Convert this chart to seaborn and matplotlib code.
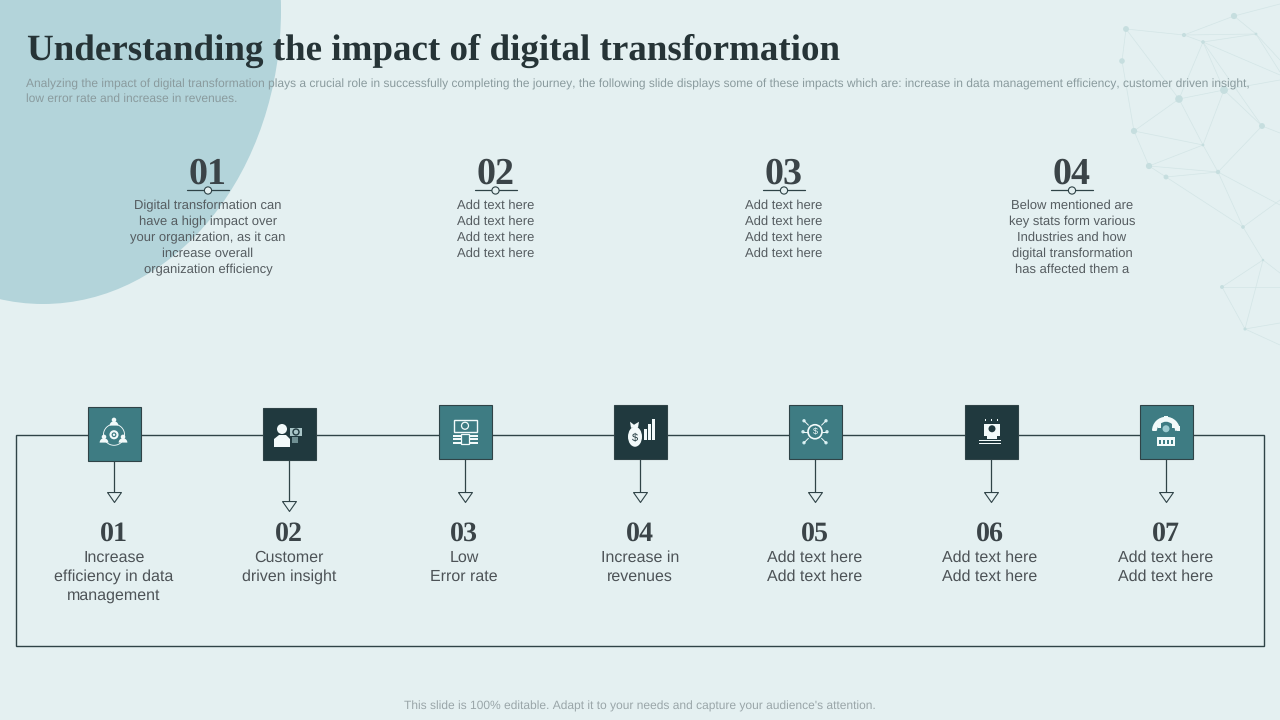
import matplotlib
matplotlib.use('Agg')

import matplotlib.pyplot as plt
import pandas as pd
import seaborn as sns
from matplotlib.patches import Circle, Ellipse, Polygon, Rectangle, Wedge

# Slide text
title = 'Understanding the impact of digital transformation'
intro_lines = [
    'Analyzing the impact of digital transformation plays a crucial role in successfully completing the journey, '
    'the following slide displays some of these impacts which are: increase in data management efficiency, customer driven insight,',
    'low error rate and increase in revenues.',
]
footer = "This slide is 100% editable. Adapt it to your needs and capture your audience's attention."

top_numbers = ['01', '02', '03', '04']
top_texts = [
    ['Digital transformation can', 'have a high impact over', 'your organization, as it can',
     'increase overall', 'organization efficiency'],
    ['Add text here', 'Add text here', 'Add text here', 'Add text here'],
    ['Add text here', 'Add text here', 'Add text here', 'Add text here'],
    ['Below mentioned are', 'key stats form various', 'Industries and how',
     'digital transformation', 'has affected them a'],
]

step_numbers = ['01', '02', '03', '04', '05', '06', '07']
step_texts = [
    ['Increase', 'efficiency in data', 'management'],
    ['Customer', 'driven insight'],
    ['Low', 'Error rate'],
    ['Increase in', 'revenues'],
    ['Add text here', 'Add text here'],
    ['Add text here', 'Add text here'],
    ['Add text here', 'Add text here'],
]

# Background network
node_x = [1126, 1184, 1203, 1234, 1256, 1122, 1179, 1224, 1134, 1262, 1203, 1149, 1166, 1218, 1243, 1263, 1222, 1245]
node_y = [29, 35, 42, 16, 34, 61, 99, 90, 131, 126, 145, 166, 177, 172, 227, 260, 287, 329]
node_size = [18, 9, 7, 20, 4, 16, 30, 32, 20, 18, 4, 20, 12, 10, 7, 3, 8, 5]
edges = [(0, 1), (0, 5), (0, 6), (1, 2), (1, 4), (2, 4), (2, 6), (2, 7), (3, 1), (3, 4), (5, 8), (6, 7), (6, 8), (6, 10),
         (7, 9), (7, 10), (8, 10), (8, 11), (9, 13), (10, 11), (10, 13), (11, 12), (11, 13), (12, 13), (12, 14),
         (13, 14), (14, 15), (15, 16), (16, 17), (15, 17), (2, 9)]
# edges leaving the slide
edge_out = [(3, 1280, 4), (4, 1280, 72), (2, 1280, 75), (9, 1280, 133), (7, 1280, 80), (13, 1280, 205), (14, 1280, 200),
            (15, 1280, 273), (16, 1280, 287), (17, 1280, 345), (17, 1280, 323), (4, 1280, 60)]

BG = '#E4F0F1'
BLOB = '#B3D4DA'
TEAL = '#3E7C83'
DARK = '#20393E'
LINE = '#2F4347'
WHITE = '#F2FAFA'

sns.set_theme(style='white')
plt.rcParams['font.family'] = ['Liberation Sans', 'DejaVu Sans']
plt.rcParams['text.hinting'] = 'none'
plt.rcParams['text.hinting_factor'] = 1

fig = plt.figure(figsize=(12.8, 7.2), dpi=100, facecolor=BG)
ax = fig.add_axes([0, 0, 1, 1])
ax.set_facecolor(BG)

ax.add_patch(Ellipse((43, 10), 476, 588, color=BLOB, lw=0, zorder=1))

# network
for a, b in edges:
    ax.plot([node_x[a], node_x[b]], [node_y[a], node_y[b]], color='#D3E5E6', lw=0.5, zorder=1)
for a, x, y in edge_out:
    ax.plot([node_x[a], x], [node_y[a], y], color='#D3E5E6', lw=0.5, zorder=1)
nodes = pd.DataFrame({'x': node_x, 'y': node_y, 'size': node_size})
sns.scatterplot(data=nodes, x='x', y='y', s=nodes['size'], color='#C6DEDF', edgecolor='none', ax=ax, zorder=2,
                legend=False)

# header
ax.text(27, 51, title, family='Liberation Serif', weight='bold', fontsize=26.65, color='#263437', va='center', ha='left',
        zorder=5)
for i, line in enumerate(intro_lines):
    ax.text(26, 84 + i * 14.5, line, fontsize=8.63, color='#8A9B9E', va='center', ha='left', zorder=5)

# four columns on top
top_centers = [208, 495.5, 784, 1072]
for num, lines, cx in zip(top_numbers, top_texts, top_centers):
    ax.text(cx, 174, num, family='Liberation Serif', weight='bold', fontsize=27, color='#3B4448', ha='center',
            va='center', zorder=5)
    ax.plot([cx - 21, cx + 21], [190, 190], color=LINE, lw=0.9, zorder=5)
    ax.add_patch(Circle((cx, 190.5), 3.6, fc=BG, ec=LINE, lw=0.8, zorder=6))
    for i, line in enumerate(lines):
        ax.text(cx, 205.5 + i * 16, line, fontsize=9.2, color='#555C60', ha='center', va='center', zorder=5)


def rect(x, y, w, h, c=WHITE):
    ax.add_patch(Rectangle((x, y), w, h, fc=c, ec='none', zorder=8))


def disc(x, y, r, c=WHITE):
    ax.add_patch(Circle((x, y), r, fc=c, ec='none', zorder=8))


def ring(x, y, r, c=WHITE, lw=1.0):
    ax.add_patch(Circle((x, y), r, fc='none', ec=c, lw=lw, zorder=8))


def person(x, y, s=1.0):
    disc(x, y - 3 * s, 2.4 * s)
    ax.add_patch(Wedge((x, y + 3 * s), 4.6 * s, 180, 360, fc=WHITE, ec='none', zorder=8))


def icon_team(cx, cy):
    person(cx, cy - 11, 0.95)
    person(cx - 10, cy + 6, 0.95)
    person(cx + 9, cy + 6, 0.95)
    ring(cx, cy + 1, 3.5, lw=1.5)
    disc(cx, cy + 1, 1.2)
    ax.add_patch(Wedge((cx, cy + 1), 11, 0, 360, width=0.9, fc=WHITE, ec='none', zorder=8))


def icon_customer(cx, cy):
    disc(cx - 7, cy - 5, 5)
    ax.add_patch(Polygon([(cx - 15, cy + 13), (cx - 15, cy + 5), (cx - 10, cy + 1), (cx - 3, cy + 1), (cx + 1, cy + 5),
                          (cx + 1, cy + 13)], fc=WHITE, ec='none', zorder=8))
    rect(cx + 1, cy - 6, 12, 8, '#A9C6C8')
    ring(cx + 7, cy - 2, 3, DARK, 1)
    rect(cx + 3, cy + 3, 6, 6, '#6F8F92')


def icon_money(cx, cy):
    ax.add_patch(Rectangle((cx - 11, cy - 12), 23, 12, fc='none', ec=WHITE, lw=1, zorder=8))
    ring(cx, cy - 6, 3.5, lw=0.9)
    for dy in [3, 6.5, 10]:
        rect(cx - 12, cy + dy, 8, 2)
        rect(cx + 5, cy + dy, 8, 2)
    ax.add_patch(Rectangle((cx - 4, cy + 2), 8, 10, fc='none', ec=WHITE, lw=0.9, zorder=8))


def icon_bag(cx, cy):
    ax.add_patch(Ellipse((cx - 5, cy + 5), 14, 20, fc=WHITE, ec='none', zorder=8))
    ax.add_patch(Polygon([(cx - 10, cy - 10), (cx - 6, cy - 7), (cx - 1, cy - 10), (cx - 2, cy - 4), (cx - 9, cy - 4)],
                         fc=WHITE, ec='none', zorder=8))
    ax.text(cx - 5, cy + 6, '$', color=DARK, fontsize=8, ha='center', va='center', zorder=9)
    rect(cx + 4, cy - 3, 2.6, 11)
    rect(cx + 8, cy - 8, 2.6, 16)
    rect(cx + 12, cy - 13, 2.6, 21)


def icon_hub(cx, cy):
    ring(cx, cy, 7, lw=1.2)
    ax.text(cx, cy, '$', color=WHITE, fontsize=6.5, ha='center', va='center', zorder=9)
    for dx, dy in [(-11, -11), (11, -11), (-11, 11), (11, 11), (-12, 0), (12, 0)]:
        disc(cx + dx, cy + dy, 1.7, '#CDEBEE')
        ax.plot([cx + dx * 0.6, cx + dx], [cy + dy * 0.6, cy + dy], color=WHITE, lw=0.7, zorder=8)


def icon_desk(cx, cy):
    rect(cx - 7, cy - 8, 16, 12)
    disc(cx + 1, cy - 3, 3.5, DARK)
    rect(cx - 4, cy + 4, 10, 3)
    rect(cx - 12, cy + 8, 22, 1.6)
    rect(cx - 12, cy + 11, 22, 1.6)
    for dx in [-5, 1, 7]:
        rect(cx + dx - 1, cy - 13, 1, 2.5)


def icon_factory(cx, cy):
    ax.add_patch(Wedge((cx, cy - 1), 14, 180, 360, width=5, fc=WHITE, ec='none', zorder=8))
    for dx in [-12, -7, 7, 12]:
        rect(cx + dx - 1.5, cy - 6 - (3 if abs(dx) == 7 else 0), 3, 5)
    rect(cx - 2, cy - 16, 4, 4)
    rect(cx - 9, cy + 5, 18, 9)
    for dx in [-6, -2, 2, 6]:
        rect(cx + dx - 0.7, cy + 8, 1.4, 4, TEAL)
    disc(cx, cy - 3, 3.5, '#9CCBD0')


icons = [icon_team, icon_customer, icon_money, icon_bag, icon_hub, icon_desk, icon_factory]

# frame and the seven steps
ax.add_patch(Rectangle((16, 435), 1248, 211, fc='none', ec=LINE, lw=1.0, zorder=3))

step_left = [88, 263, 439, 614, 789, 965, 1140]
step_top = [407, 408, 405, 405, 405, 405, 405]
step_height = [53.5, 52, 53.5, 53.5, 53.5, 53.5, 53.5]
step_color = [TEAL, DARK, TEAL, DARK, TEAL, DARK, TEAL]
stem_end = [492, 501, 492, 492, 492, 492, 492]
text_center = [114, 289, 464, 640, 815, 990, 1166]

tips = []
for i in range(7):
    cx = step_left[i] + 26
    ax.plot([cx, cx], [step_top[i] + step_height[i], stem_end[i]], color=LINE, lw=0.9, zorder=3)
    ax.add_patch(Rectangle((step_left[i], step_top[i]), 52.5, step_height[i], fc=step_color[i], ec=LINE, lw=0.8, zorder=6))
    tips.append((cx, stem_end[i] + 5))
    ax.text(text_center[i] - 0.5, 534, step_numbers[i], family='Liberation Serif', weight='bold', fontsize=20,
            color='#3B4448', ha='center', va='center', zorder=5)
    for j, line in enumerate(step_texts[i]):
        ax.text(text_center[i], 558 + j * 19, line, fontsize=11.45, color='#4D5357', ha='center', va='center', zorder=5)
    icons[i](cx, step_top[i] + step_height[i] / 2)

tip_df = pd.DataFrame(tips, columns=['x', 'y'])
sns.scatterplot(data=tip_df, x='x', y='y', marker=[(-7, 5), (7, 5), (0, -5), (-7, 5)], s=100, color=BG, edgecolor=LINE,
                linewidth=0.8, ax=ax, zorder=4, legend=False)

ax.text(640, 706, footer, fontsize=8.65, color='#9AA6A9', ha='center', va='center', zorder=5)

ax.set_xlim(0, 1280)
ax.set_ylim(720, 0)
ax.axis('off')

fig.savefig('out.png', dpi=100, facecolor=BG)
